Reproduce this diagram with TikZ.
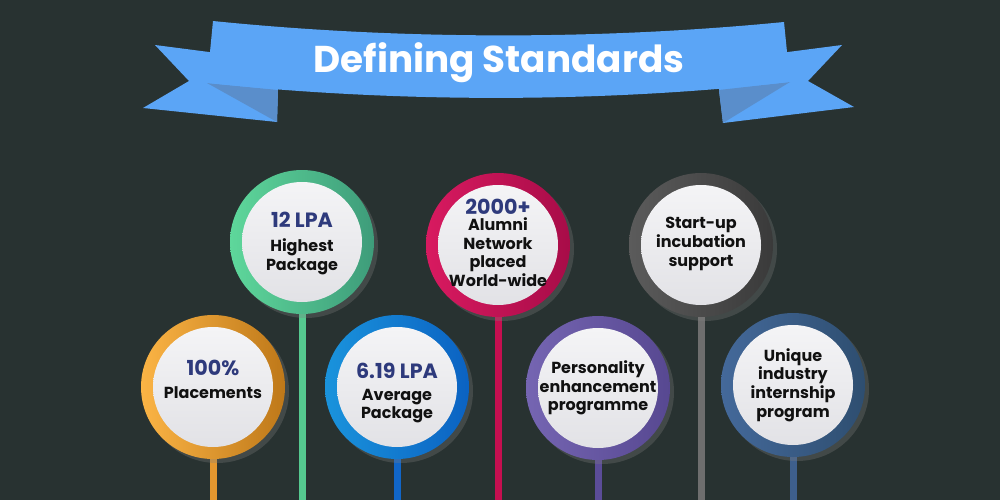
\documentclass[tikz,border=0pt]{standalone}
\usepackage{fontspec}
\setmainfont{Poppins}
\usetikzlibrary{positioning,shadows,calc}

\definecolor{bg}{HTML}{283231}
\definecolor{band}{HTML}{5BA5F6}
\definecolor{fold}{HTML}{5A8ECB}
\definecolor{navy}{HTML}{2E3A7C}
\definecolor{ink}{HTML}{111111}
\definecolor{facetop}{HTML}{F4F4F6}
\definecolor{facebot}{HTML}{E2E2E6}
\definecolor{oraL}{HTML}{FBB445}\definecolor{oraD}{HTML}{BE7819}\definecolor{oraS}{HTML}{E4972F}
\definecolor{grnL}{HTML}{5ED79B}\definecolor{grnD}{HTML}{3E9C7A}\definecolor{grnS}{HTML}{55C98F}
\definecolor{bluL}{HTML}{1A93DC}\definecolor{bluD}{HTML}{0B62C2}\definecolor{bluS}{HTML}{1166C8}
\definecolor{redL}{HTML}{D81A60}\definecolor{redD}{HTML}{A80C48}\definecolor{redS}{HTML}{C60F50}
\definecolor{purL}{HTML}{7565B2}\definecolor{purD}{HTML}{574891}\definecolor{purS}{HTML}{5B4C98}
\definecolor{gryL}{HTML}{5B5B5B}\definecolor{gryD}{HTML}{3A3A3A}\definecolor{gryS}{HTML}{6E6E6E}
\definecolor{stlL}{HTML}{44699A}\definecolor{stlD}{HTML}{2E4E70}\definecolor{stlS}{HTML}{3E5F8C}

\tikzset{
  ring/.style 2 args={circle, minimum size=108pt, inner sep=0pt, left color=#1, right color=#2,
    drop shadow={opacity=0.3, shadow xshift=3pt, shadow yshift=-3pt}},
  face/.style={circle, minimum size=90pt, inner sep=0pt, top color=facetop, bottom color=facebot},
  stem/.style={line width=5.25pt},
  num/.style={font=\bfseries\fontsize{15.5}{18}\selectfont, text=navy},
  txt/.style={align=center, font=\bfseries\fontsize{12}{14}\selectfont, text=ink},
  title/.style={font=\bfseries\fontsize{28}{33}\selectfont, text=white}
}

\begin{document}
\begin{tikzpicture}[x=0.75pt,y=-0.75pt]
%Hintergrund
\fill[bg] (0,0) rectangle (1000,500);
\useasboundingbox (0,0) rectangle (1000,500);

%Band links und rechts
\fill[band] (278,58) -- (209,52) -- (155,45) -- (189,81) -- (143,108) -- (277,122) -- (278,90) -- cycle;
\fill[fold] (207,83) -- (278,90) -- (277,122) -- cycle;
\fill[band] (719,58) -- (788,52) -- (842,45) -- (808,81) -- (854,107) -- (723,123) -- (719,90) -- cycle;
\fill[fold] (790,82) -- (719,90) -- (723,123) -- cycle;
%Band Mitte
\fill[band] (213,21) .. controls (400,40) and (600,40) .. (784,22) -- (790,82)
  .. controls (600,103) and (400,103) .. (207,83) -- cycle;
\node[title, anchor=base] (ttl) at (499,72) {Defining Standards};

%Punkte
\coordinate (p1) at (213,387); \coordinate (s1) at (213,500);
\coordinate (p2) at (302,242); \coordinate (s2) at (302,500);
\coordinate (p3) at (397,387); \coordinate (s3) at (397,500);
\coordinate (p4) at (498,245); \coordinate (s4) at (498,500);
\coordinate (p5) at (598,388); \coordinate (s5) at (598,500);
\coordinate (p6) at (701,245); \coordinate (s6) at (701,500);
\coordinate (p7) at (793,385); \coordinate (s7) at (793,500);

%Stiele
\draw[stem, oraS] (p1) -- (s1);
\draw[stem, grnS] (p2) -- (s2);
\draw[stem, bluS] (p3) -- (s3);
\draw[stem, redS] (p4) -- (s4);
\draw[stem, purS] (p5) -- (s5);
\draw[stem, gryS] (p6) -- (s6);
\draw[stem, stlS] (p7) -- (s7);

%Kreise
\node[ring={oraL}{oraD}] (place) at (p1) {};
\node[face] (placef) at (p1) {};
\node[ring={grnL}{grnD}] (high) at (p2) {};
\node[face] (highf) at (p2) {};
\node[ring={bluL}{bluD}] (avg) at (p3) {};
\node[face] (avgf) at (p3) {};
\node[ring={redL}{redD}] (alum) at (p4) {};
\node[face] (alumf) at (p4) {};
\node[ring={purL}{purD}] (pers) at (p5) {};
\node[face] (persf) at (p5) {};
\node[ring={gryL}{gryD}] (start) at (p6) {};
\node[face] (startf) at (p6) {};
\node[ring={stlL}{stlD}] (uniq) at (p7) {};
\node[face] (uniqf) at (p7) {};

%Texte
\node[num] (placen) at (213,368) {100\%};
\node[txt] (placet) at (213,393) {Placements};
\node[num] (highn) at (302,220) {12 LPA};
\node[txt] (hight) at (302,257) {Highest\\Package};
\node[num] (avgn) at (397,371) {6.19 LPA};
\node[txt] (avgt) at (397,406) {Average\\Package};
\node[num] (alumn) at (498,207) {2000+};
\node[txt] (alumt) at (498,252) {Alumni\\Network\\placed\\World-wide};
\node[txt] (perst) at (598,388) {Personality\\enhancement\\programme};
\node[txt] (startt) at (701,244) {Start-up\\incubation\\support};
\node[txt] (uniqt) at (793,385) {Unique\\industry\\internship\\program};
\end{tikzpicture}
\end{document}
